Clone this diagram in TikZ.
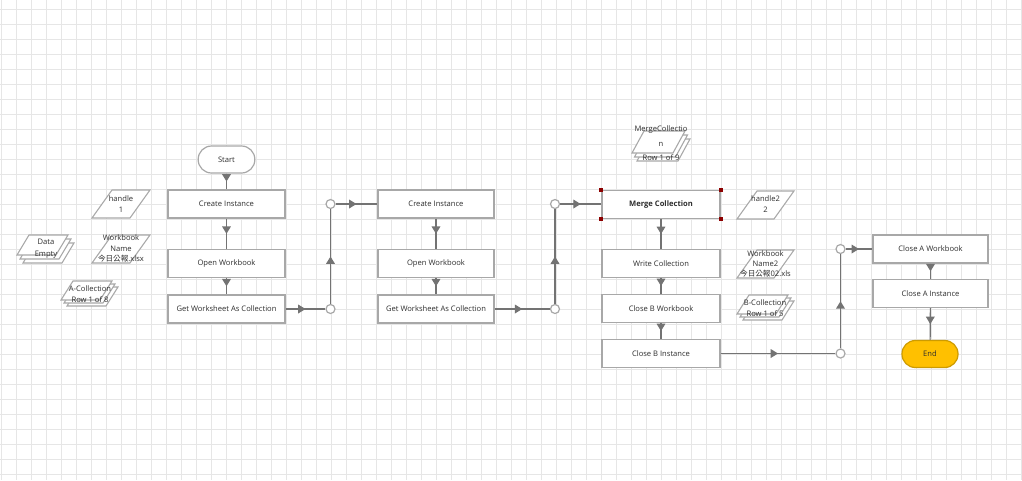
\documentclass[tikz,border=0pt]{standalone}
\usepackage{fontspec}
\setmainfont{Open Sans}
\newfontfamily\cjkfont{Noto Sans CJK TC}
\usetikzlibrary{arrows.meta,decorations.markings}
\definecolor{gridc}{RGB}{230,230,230}
\definecolor{boxborder}{RGB}{168,168,168}
\definecolor{linec}{RGB}{115,115,115}
\definecolor{txt}{RGB}{45,45,45}
\definecolor{endfill}{RGB}{255,192,0}
\definecolor{endborder}{RGB}{205,155,0}
\definecolor{handlec}{RGB}{140,0,0}
\tikzset{
  stepbox/.style={draw=boxborder, line width=1.0pt, fill=white, minimum height=21pt,
    text=txt, font=\fontsize{5.7}{7}\selectfont, inner sep=0pt},
  terminal/.style={draw=boxborder, line width=0.9pt, rounded corners=10pt,
    minimum width=42.5pt, minimum height=20.25pt, text=txt, font=\fontsize{5.7}{7}\selectfont, inner sep=0pt},
  junction/.style={circle, draw=boxborder, line width=0.9pt, fill=white, minimum size=6.75pt, inner sep=0pt},
  flow/.style={draw=linec, line width=0.9pt, postaction={decorate},
    decoration={markings, mark=at position 0.5 with {\arrow{Triangle[width=6.5pt,length=5.5pt]}}}},
  dshape/.style={draw=boxborder, line width=0.8pt, fill=white},
  dtext/.style={text=txt, font=\fontsize{5.7}{8.2}\selectfont, align=center, inner sep=0pt},
  selhandle/.style={fill=handlec, minimum size=3pt, inner sep=0pt},
}
% parallelogram: centre x, centre y, edge length, height, slant (pixel units)
\newcommand\mypara[5]{\draw[dshape] ({#1-#3/2+#5/2},{#2-#4/2}) -- ({#1+#3/2+#5/2},{#2-#4/2}) -- ({#1+#3/2-#5/2},{#2+#4/2}) -- ({#1-#3/2-#5/2},{#2+#4/2}) -- cycle;}
% stack of three parallelograms: front centre x,y, edge, height, slant, dx, dy
\newcommand\mystack[7]{\mypara{#1+2*#6}{#2+2*#7}{#3}{#4}{#5}\mypara{#1+#6}{#2+#7}{#3}{#4}{#5}\mypara{#1}{#2}{#3}{#4}{#5}}
\begin{document}
\begin{tikzpicture}[x=0.75pt,y=-0.75pt]
\useasboundingbox (0,0) rectangle (1022,480);
\fill[white] (0,0) rectangle (1022,480);
% grid
\foreach \x in {1,16,...,1021} \draw[gridc, line width=0.75pt] (\x,0) -- (\x,480);
\foreach \y in {9,24,...,474} \draw[gridc, line width=0.75pt] (0,\y) -- (1022,\y);

% column 1
\node[terminal, fill=white] (start) at (226.5,159.5) {Start};
\node[stepbox, minimum width=87.75pt] (ci1) at (226.5,204) {Create Instance};
\node[stepbox, minimum width=87.75pt] (ow1) at (226.5,263.5) {Open Workbook};
\node[stepbox, minimum width=87.75pt] (gw1) at (226.5,309) {Get Worksheet As Collection};
\node[junction] (c1t) at (330.5,204) {};
\node[junction] (c1b) at (330.5,309) {};

% column 2
\node[stepbox, minimum width=87pt] (ci2) at (436,204) {Create Instance};
\node[stepbox, minimum width=87pt] (ow2) at (436,263.5) {Open Workbook};
\node[stepbox, minimum width=87pt] (gw2) at (436,309) {Get Worksheet As Collection};
\node[junction] (c2t) at (555,204) {};
\node[junction] (c2b) at (555,309) {};

% column 3
\node[stepbox, minimum width=88.5pt, font=\fontsize{5.7}{7}\selectfont\bfseries] (mc) at (661,204.5) {Merge Collection};
\node[stepbox, minimum width=88.5pt] (wc) at (661,263.5) {Write Collection};
\node[stepbox, minimum width=88.5pt] (cbw) at (661,308.5) {Close B Workbook};
\node[stepbox, minimum width=88.5pt] (cbi) at (661,353.5) {Close B Instance};
\node[selhandle] (h1) at (601,190) {};
\node[selhandle] (h2) at (721,190) {};
\node[selhandle] (h3) at (601,219) {};
\node[selhandle] (h4) at (721,219) {};
\node[junction] (c3t) at (840.5,249) {};
\node[junction] (c3b) at (840.5,353.5) {};

% column 4
\node[stepbox, minimum width=86.25pt] (caw) at (930.5,249) {Close A Workbook};
\node[stepbox, minimum width=86.25pt] (cai) at (930.5,293.5) {Close A Instance};
\node[terminal, fill=endfill, draw=endborder, minimum width=42pt] (end) at (930,354) {End};

% connectors
\draw[flow] (start) -- (ci1);
\draw[flow] (ci1) -- (ow1);
\draw[flow] (ow1) -- (gw1);
\draw[flow] (gw1) -- (c1b);
\draw[flow] (c1b) -- (c1t);
\draw[flow] (c1t) -- (ci2);
\draw[flow] (ci2) -- (ow2);
\draw[flow] (ow2) -- (gw2);
\draw[flow] (gw2) -- (c2b);
\draw[flow] (c2b) -- (c2t);
\draw[flow] (c2t) -- (c2t -| mc.west);
\draw[flow] (mc) -- (wc);
\draw[flow] (wc) -- (cbw);
\draw[flow] (cbw) -- (cbi);
\draw[flow] (cbi) -- (c3b);
\draw[flow] (c3b) -- (c3t);
\draw[flow] (c3t) -- (caw);
\draw[flow] (caw) -- (cai);
\draw[flow] (cai) -- (end);

% data shapes
\mypara{121}{204}{38}{28}{20}
\node[dtext] (d1) at (121,204.5) {handle\\1};
\mypara{121}{249}{38}{28}{20}
\node[dtext, font=\fontsize{5.7}{7.9}\selectfont] (d2) at (121,248.5) {Workbook\\Name\\{\cjkfont 今日公報}.xlsx};
\mystack{42.5}{245}{39}{20}{12}{3}{4}
\node[dtext, font=\fontsize{5.7}{9}\selectfont] (d3) at (46,249) {Data\\Empty};
\mystack{86.5}{290.5}{39}{19}{12}{3}{3}
\node[dtext] (d4) at (90,294.5) {A-Collection\\Row 1 of 8};
\mystack{658.5}{142}{41}{22}{12}{2.5}{4}
\node[dtext, font=\fontsize{5.7}{10.9}\selectfont] (d5) at (661,143.5) {MergeCollectio\\n\\Row 1 of 9};
\mypara{765.5}{205}{37}{28}{20}
\node[dtext] (d6) at (765.5,204.5) {handle2\\2};
\mypara{765.5}{264}{37}{28}{20}
\node[dtext, font=\fontsize{5.7}{7.5}\selectfont] (d7) at (765.5,264) {Workbook\\Name2\\{\cjkfont 今日公報}02.xls};
\mystack{762.5}{304.5}{39}{19}{12}{3}{3}
\node[dtext] (d8) at (765,308.5) {B-Collection\\Row 1 of 5};
\end{tikzpicture}
\end{document}
